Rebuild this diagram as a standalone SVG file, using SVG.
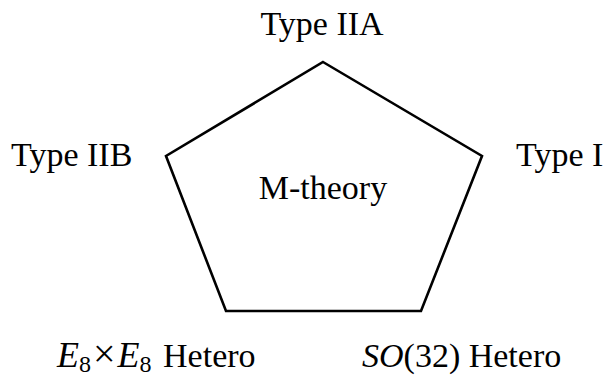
<svg xmlns="http://www.w3.org/2000/svg" width="608" height="377" viewBox="0 0 608 377">
<style>
.lbl{font-family:"Liberation Serif","Times New Roman",serif;font-size:34px;fill:#000}
.it{font-style:italic}
.edge{fill:none;stroke:#000;stroke-width:2.6;stroke-linejoin:miter}
</style>
<rect width="608" height="377" fill="#fff"/>
<g id="connectors">
<polygon class="edge" points="323,62 482,156 421,311 226,311 166,156"/>
</g>
<g id="type-iia"><text class="lbl" x="322" y="35" text-anchor="middle">Type IIA</text></g>
<g id="type-iib"><text class="lbl" x="11" y="166">Type IIB</text></g>
<g id="type-i"><text class="lbl" x="516" y="166">Type I</text></g>
<g id="m-theory"><text class="lbl" x="323" y="199" text-anchor="middle">M-theory</text></g>
<g id="e8-hetero"><text class="lbl" x="57" y="367"><tspan class="it" font-size="36">E</tspan><tspan font-size="24" dy="5">8</tspan><tspan font-size="40" dy="-5" dx="2">×</tspan><tspan class="it" font-size="36" dx="2">E</tspan><tspan font-size="24" dy="5">8</tspan><tspan dy="-5" dx="3"> Hetero</tspan></text></g>
<g id="so32-hetero"><text class="lbl" x="362" y="367"><tspan class="it">SO</tspan>(32) Hetero</text></g>
</svg>
